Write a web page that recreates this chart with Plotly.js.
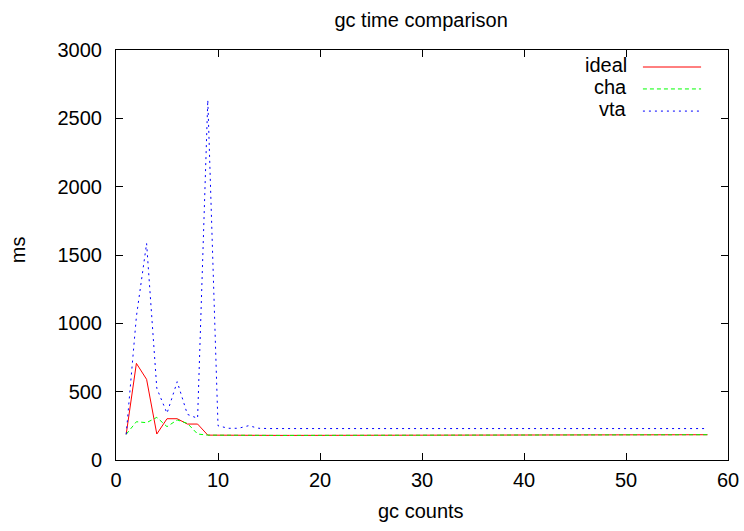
<!DOCTYPE html>
<html>
<head>
<meta charset="utf-8">
<script src="https://cdn.plot.ly/plotly-3.0.1.min.js"></script>
<style>html,body{margin:0;padding:0;background:#fff;}#chart{width:744px;height:531px;}</style>
</head>
<body>
<div id="chart"></div>
<script>
const gcCounts = Array.from({length: 58}, (_, i) => i + 1);
const ideal = [188,707,590,190,302,302,263,263,182,181,180,180,180,180,180,180,180,180,180,180,
               181,181,181,181,181,181,181,181,181,182,182,182,182,182,182,182,182,182,183,183,
               183,183,183,183,183,184,184,184,184,184,184,185,185,185,185,185,185,185];
const cha = [188,280,273,312,244,293,268,190,182,181,180,180,180,180,180,180,180,180,180,180,
             181,181,181,181,181,181,181,181,181,182,182,182,182,182,182,182,182,182,183,183,
             183,183,183,183,183,184,184,184,184,184,184,185,185,185,185,185,185,185];
const vta = [188,1050,1585,525,342,573,334,305,2634,251,232,232,251,232,230,230,230,230,230,230,
             230,230,230,230,230,230,230,230,230,230,230,230,230,230,230,230,230,230,230,230,
             230,230,230,230,230,230,230,230,230,230,230,230,230,230,230,230,230,230];
const seriesNames = ["ideal", "cha", "vta"];
const seriesColors = ["#ff0000", "#00ff00", "#0000ff"];
const seriesDash = ["solid", "4px,3px", "2px,4px"];
const seriesData = [ideal, cha, vta];

const font = {family: "Liberation Sans, Arial, sans-serif", size: 20, color: "#000"};

const traces = seriesData.map((d, i) => ({
  x: gcCounts, y: d, type: "scatter", mode: "lines", name: seriesNames[i],
  line: {color: seriesColors[i], width: 1, dash: seriesDash[i]}, showlegend: false
}));

const legY = [0.9585, 0.905, 0.851];
const shapes = seriesNames.map((n, i) => ({
  type: "line", xref: "paper", yref: "paper", x0: 0.861, x1: 0.956, y0: legY[i], y1: legY[i],
  line: {color: seriesColors[i], width: 1, dash: seriesDash[i]}
}));
const annotations = seriesNames.map((n, i) => ({
  text: n, xref: "paper", yref: "paper", x: 0.839, y: legY[i] + 0.004, xanchor: "right", yanchor: "middle",
  showarrow: false, font: font
}));
annotations.push({text: "ms", xref: "paper", yref: "paper", x: -0.160, y: 0.512, xanchor: "center",
  yanchor: "middle", textangle: -90, showarrow: false, font: font});
annotations.push({text: "gc counts", xref: "paper", yref: "paper", x: 0.498, y: -0.124, xanchor: "center",
  yanchor: "middle", showarrow: false, font: font});

const axisCommon = {
  showgrid: false, zeroline: false, showline: true, linecolor: "#000", linewidth: 1,
  mirror: "ticks", ticks: "inside", ticklen: 7, tickcolor: "#000", tickwidth: 1,
  tickfont: font
};

const layout = {
  width: 744, height: 531,
  margin: {l: 116, r: 16, t: 50, b: 71},
  paper_bgcolor: "#fff", plot_bgcolor: "#fff",
  title: {text: "gc time comparison", font: font, x: 0.566, xanchor: "center", y: 0.962, yanchor: "middle"},
  xaxis: Object.assign({}, axisCommon, {range: [0, 60], dtick: 10, tick0: 0, ticklabelstandoff: 2}),
  yaxis: Object.assign({}, axisCommon, {range: [0, 3000], dtick: 500, tick0: 0, ticklabelstandoff: 9}),
  shapes: shapes,
  annotations: annotations,
  showlegend: false
};

Plotly.newPlot("chart", traces, layout, {displayModeBar: false, staticPlot: true});
</script>
</body>
</html>
